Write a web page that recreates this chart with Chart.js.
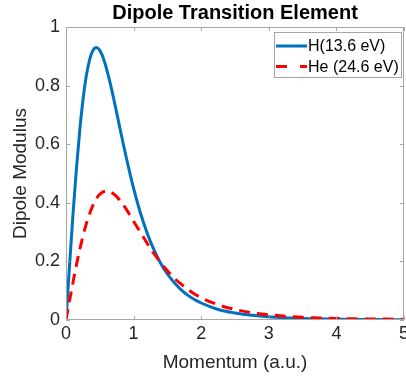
<!DOCTYPE html>
<html>
<head>
<meta charset="utf-8">
<script src="https://cdn.jsdelivr.net/npm/chart.js@4.4.0/dist/chart.umd.min.js"></script>
<style>
  html, body { margin: 0; padding: 0; background: #fff; }
  canvas { display: block; }
</style>
</head>
<body>
<canvas id="dipoleChart" width="406" height="380"></canvas>
<script>
// momentum grid (a.u.) and dipole modulus
const momentum = [0, 0.05, 0.1, 0.15, 0.2, 0.25, 0.3, 0.35, 0.4, 0.45, 0.5, 0.55, 0.6, 0.65, 0.7, 0.75, 0.8, 0.85, 0.9, 0.95,
    1.0, 1.1, 1.2, 1.3, 1.4, 1.5, 1.6, 1.7, 1.8, 1.9, 2.0, 2.25, 2.5, 2.75, 3.0, 3.25, 3.5, 3.75, 4.0, 4.25, 4.5, 4.75, 5.0];
const hDipole = [0, 0.178, 0.349, 0.504, 0.639, 0.749, 0.833, 0.889, 0.921, 0.930, 0.920, 0.895, 0.857, 0.812, 0.761, 0.707, 0.652, 0.598, 0.546, 0.496,
    0.449, 0.366, 0.297, 0.240, 0.194, 0.157, 0.128, 0.104, 0.085, 0.070, 0.058, 0.036, 0.024, 0.016, 0.011, 0.008, 0.005, 0.004, 0.003, 0.002, 0.002, 0.001, 0.001];
const heDipole = [0, 0.063, 0.124, 0.183, 0.237, 0.285, 0.328, 0.363, 0.392, 0.414, 0.429, 0.437, 0.440, 0.438, 0.431, 0.421, 0.407, 0.392, 0.375, 0.356,
    0.337, 0.299, 0.262, 0.227, 0.196, 0.168, 0.143, 0.123, 0.105, 0.089, 0.076, 0.052, 0.036, 0.025, 0.018, 0.013, 0.009, 0.007, 0.005, 0.004, 0.003, 0.003, 0.002];
const seriesNames = ["H(13.6 eV)", "He (24.6 eV)"];
const xTicks = [0, 1, 2, 3, 4, 5];
const yTicks = [0, 0.2, 0.4, 0.6, 0.8, 1];

const FONT = "'Liberation Sans', Arial, Helvetica, sans-serif";
const AXIS_GRAY = "#a6a6a6";
const TEXT = "#262626";
const BLUE = "#0072BD";
const RED = "#FF0000";

// title, box, inward ticks and legend, MATLAB style
const matlabDecor = {
    id: "matlabDecor",
    afterDraw(chart) {
        const ctx = chart.ctx;
        const a = chart.chartArea;
        const xs = chart.scales.x, ys = chart.scales.y;
        ctx.save();

        // box
        ctx.strokeStyle = AXIS_GRAY;
        ctx.lineWidth = 1;
        ctx.strokeRect(a.left + 0.5, a.top + 0.5, a.right - a.left - 1, a.bottom - a.top - 1);

        // inward ticks
        ctx.beginPath();
        xTicks.forEach(v => {
            const px = Math.round(xs.getPixelForValue(v)) + 0.5;
            ctx.moveTo(px, a.bottom); ctx.lineTo(px, a.bottom - 4);
            ctx.moveTo(px, a.top); ctx.lineTo(px, a.top + 4);
        });
        yTicks.forEach(v => {
            const py = Math.round(ys.getPixelForValue(v)) + 0.5;
            ctx.moveTo(a.left, py); ctx.lineTo(a.left + 4, py);
            ctx.moveTo(a.right, py); ctx.lineTo(a.right - 4, py);
        });
        ctx.stroke();

        // title
        ctx.fillStyle = "#000";
        ctx.font = "bold 20px " + FONT;
        ctx.textAlign = "center";
        ctx.textBaseline = "alphabetic";
        ctx.fillText("Dipole Transition Element", (a.left + a.right) / 2, 19);

        // legend
        const lx = 274, ly = 32, lw = 127, lh = 45;
        ctx.fillStyle = "#fff";
        ctx.fillRect(lx, ly, lw, lh);
        ctx.strokeStyle = AXIS_GRAY;
        ctx.strokeRect(lx + 0.5, ly + 0.5, lw, lh);
        const rows = [
            { name: seriesNames[0], color: BLUE, dash: [] },
            { name: seriesNames[1], color: RED, dash: [11, 13] }
        ];
        rows.forEach((r, i) => {
            const cy = 46 + i * 20.5;
            ctx.beginPath();
            ctx.setLineDash(r.dash);
            ctx.strokeStyle = r.color;
            ctx.lineWidth = 3;
            ctx.moveTo(276, cy);
            ctx.lineTo(307, cy);
            ctx.stroke();
            ctx.setLineDash([]);
            ctx.fillStyle = "#000";
            ctx.font = "16px " + FONT;
            ctx.textAlign = "left";
            ctx.textBaseline = "middle";
            ctx.fillText(r.name, 308, cy + 1);
        });
        ctx.restore();
    }
};

new Chart("dipoleChart", {
    type: "line",
    data: {
        datasets: [{
            label: seriesNames[0],
            data: momentum.map((p, i) => ({ x: p, y: hDipole[i] })),
            borderColor: BLUE,
            borderWidth: 3,
            pointRadius: 0,
            cubicInterpolationMode: "monotone",
            order: 1
        }, {
            label: seriesNames[1],
            data: momentum.map((p, i) => ({ x: p, y: heDipole[i] })),
            borderColor: RED,
            borderWidth: 3,
            borderDash: [11, 7],
            pointRadius: 0,
            cubicInterpolationMode: "monotone",
            order: 0
        }]
    },
    options: {
        responsive: false,
        animation: false,
        layout: { padding: { left: 0, right: 2, top: 27, bottom: 0 } },
        plugins: {
            legend: { display: false },
            title: { display: false },
            tooltip: { enabled: false }
        },
        scales: {
            x: {
                type: "linear",
                min: 0,
                max: 5,
                afterBuildTicks: s => { s.ticks = xTicks.map(v => ({ value: v })); },
                ticks: {
                    color: TEXT,
                    font: { family: FONT, size: 18 },
                    padding: 3,
                    maxRotation: 0,
                    callback: v => String(v)
                },
                grid: { display: false, drawTicks: false },
                border: { display: false },
                title: {
                    display: true,
                    text: "Momentum (a.u.)",
                    color: TEXT,
                    font: { family: FONT, size: 19 },
                    padding: { top: 0, bottom: 6 }
                },
                afterFit: s => { s.height = 60; s.paddingLeft = 0; s.paddingRight = 0; }
            },
            y: {
                min: 0,
                max: 1,
                afterBuildTicks: s => { s.ticks = yTicks.map(v => ({ value: v })); },
                ticks: {
                    color: TEXT,
                    font: { family: FONT, size: 18 },
                    padding: 6,
                    callback: v => String(Math.round(v * 10) / 10)
                },
                grid: { display: false, drawTicks: false },
                border: { display: false },
                title: {
                    display: true,
                    text: "Dipole Modulus",
                    color: TEXT,
                    font: { family: FONT, size: 19 },
                    padding: { top: 9, bottom: 0 }
                },
                afterFit: s => { s.width = 66; s.paddingTop = 0; s.paddingBottom = 0; }
            }
        }
    },
    plugins: [matlabDecor]
});
</script>
</body>
</html>
